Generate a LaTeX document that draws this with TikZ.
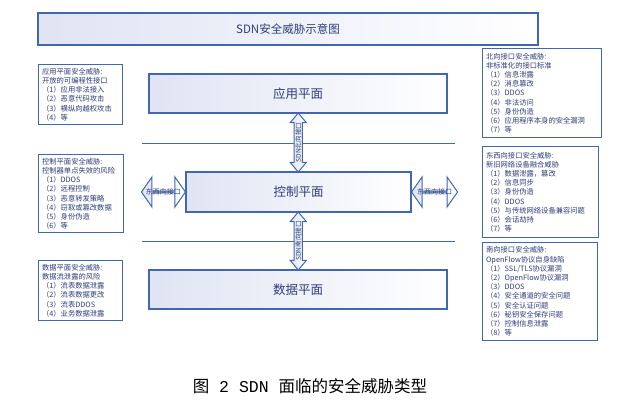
\documentclass[tikz,border=0pt]{standalone}
\usepackage{fontspec}
\setmainfont{Noto Sans CJK SC}
\newfontfamily\capmono{Liberation Mono}
\usetikzlibrary{shapes.arrows,calc}
\definecolor{sdnblue}{RGB}{66,103,178}
\definecolor{sdntext}{RGB}{46,62,122}
\definecolor{sdnshade}{RGB}{224,228,243}
\begin{document}
\begin{tikzpicture}[x=1pt, y=-1pt,
	plane/.style={draw=sdnblue, line width=1.1pt, left color=sdnshade, right color=white, text=sdntext, font=\fontsize{12.5}{14}\selectfont},
	threat/.style={draw=sdnblue, line width=1.1pt, fill=white, align=left, anchor=north west, inner sep=3.5pt, text=sdntext, font=\fontsize{7.3}{9.2}\selectfont},
	iface/.style={double arrow, draw=sdnblue, line width=1pt, left color=sdnshade, right color=white, inner sep=0pt, text=sdntext, font=\fontsize{6.6}{7}\selectfont},
	ifacetext/.style={text=sdntext, font=\fontsize{7}{8}\selectfont, inner sep=0pt},
	layer/.style={draw=sdnblue, line width=0.9pt}]
	\useasboundingbox (0,0) rectangle (617,408);

	\node[plane, minimum width=500, minimum height=32, font=\fontsize{11.5}{13}\selectfont] (title) at (288, 29) {SDN安全威胁示意图};

	\draw[layer] (142, 143) -- (455, 143);
	\draw[layer] (142, 241) -- (455, 241);

	\node[plane, minimum width=298, minimum height=39] (app) at (298, 93.5) {应用平面};
	\node[plane, minimum width=225, minimum height=40] (ctrl) at (298.5, 192) {控制平面};
	\node[plane, minimum width=298, minimum height=39] (data) at (298, 289.5) {数据平面};

	\node[iface, rotate=90, minimum height=59, minimum width=16, double arrow head extend=3.5pt, double arrow tip angle=80] (north) at ($(app.south)!0.5!(ctrl.north)$) {SDN北向接口};
	\node[iface, rotate=90, minimum height=58, minimum width=16, double arrow head extend=3.5pt, double arrow tip angle=80] (south) at ($(ctrl.south)!0.5!(data.north)$) {SDN南向接口};

	\node[iface, minimum height=44, minimum width=30, double arrow head extend=9pt, double arrow tip angle=110, label={[ifacetext]center:东西向接口}] (ewleft) at ($(ctrl.west)+(-22, 0)$) {};
	\node[iface, minimum height=46, minimum width=30, double arrow head extend=9pt, double arrow tip angle=110, label={[ifacetext]center:东西向接口}] (ewright) at ($(ctrl.east)+(23, 0)$) {};

	\node[threat, text width=77, minimum height=59] (appthreat) at (38, 64) {应用平面安全威胁:\\开放的可编程性接口\\（1）应用非法接入\\（2）恶意代码攻击\\（3）横纵向越权攻击\\（4）等};
	\node[threat, text width=78, minimum height=78] (ctrlthreat) at (38, 154) {控制平面安全威胁:\\控制器单点失效的风险\\（1）DDOS\\（2）远程控制\\（3）恶意转发策略\\（4）窃取或篡改数据\\（5）身份伪造\\（6）等};
	\node[threat, text width=77, minimum height=59] (datathreat) at (38, 260) {数据平面安全威胁:\\数据流泄露的风险\\（1）流表数据泄露\\（2）流表数据更改\\（3）流表DDOS\\（4）业务数据泄露};

	\node[threat, text width=112, minimum height=89] (norththreat) at (482, 48) {北向接口安全威胁:\\非标准化的接口标准\\（1）信息泄露\\（2）消息篡改\\（3）DDOS\\（4）非法访问\\（5）身份伪造\\（6）应用程序本身的安全漏洞\\（7）等};
	\node[threat, text width=109, minimum height=91] (ewthreat) at (482, 146) {东西向接口安全威胁:\\新旧网络设备融合威胁\\（1）数据泄露，篡改\\（2）信息同步\\（3）身份伪造\\（4）DDOS\\（5）与传统网络设备兼容问题\\（6）会话劫持\\（7）等};
	\node[threat, text width=108, minimum height=98] (souththreat) at (482, 242) {南向接口安全威胁:\\OpenFlow协议自身缺陷\\（1）SSL/TLS协议漏洞\\（2）OpenFlow协议漏洞\\（3）DDOS\\（4）安全通道的安全问题\\（5）安全认证问题\\（6）秘钥安全保存问题\\（7）控制信息泄露\\（8）等};

	\node[font=\fontsize{16.5}{18}\selectfont] (caption) at (310, 386) {图{\capmono{} 2 SDN }面临的安全威胁类型};
\end{tikzpicture}
\end{document}
